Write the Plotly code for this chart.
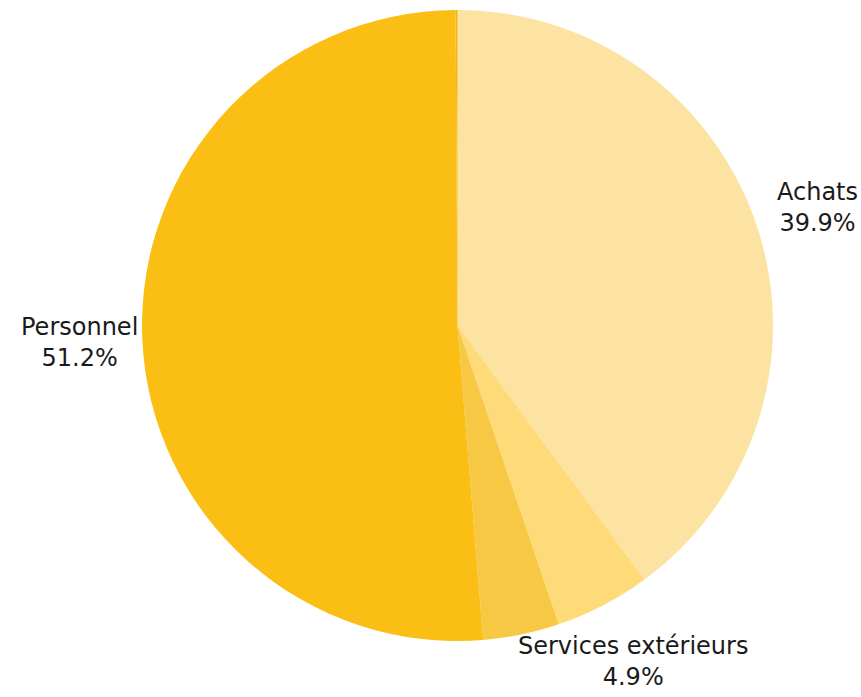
import math
import plotly.graph_objects as go

labels = ["Achats", "Services extérieurs", "Autres", "Personnel", "Divers"]
values = [39.9, 4.9, 3.9, 51.2, 0.1]
show_label = [True, True, False, True, False]
colors = ["#FCE3A2", "#FEDA78", "#F7C843", "#FBBE15", "#F7B50A"]

W, H = 861, 697
M = dict(l=54, r=0, t=10, b=56)
LABEL_RADIUS = 1.2  # label centre distance, in pie radii

fig = go.Figure(go.Pie(
    labels=labels,
    values=values,
    textinfo="none",
    direction="clockwise",
    sort=False,
    rotation=0,
    automargin=False,
    marker=dict(colors=colors, line=dict(width=0)),
    hoverinfo="label+percent",
    showlegend=False,
))

# Outside labels centred on each slice's bisector
pw, ph = W - M["l"] - M["r"], H - M["t"] - M["b"]
r_px = min(pw, ph) / 2
total = sum(values)
cum = 0.0
for lab, v, s in zip(labels, values, show_label):
    mid = (cum + v / 2) / total * 2 * math.pi
    cum += v
    if not s:
        continue
    x = 0.5 + LABEL_RADIUS * r_px * math.sin(mid) / pw
    y = 0.5 + LABEL_RADIUS * r_px * math.cos(mid) / ph
    fig.add_annotation(
        x=x, y=y, xref="paper", yref="paper",
        text=f"{lab}<br>{v / total * 100:.1f}%",
        showarrow=False, xanchor="center", yanchor="middle", align="center",
        font=dict(family="DejaVu Sans", size=24, color="#1a1a1a"),
    )

fig.update_layout(
    width=W, height=H,
    margin=dict(**M, autoexpand=False),
    paper_bgcolor="white",
    plot_bgcolor="white",
)
fig.write_html("out.html")
